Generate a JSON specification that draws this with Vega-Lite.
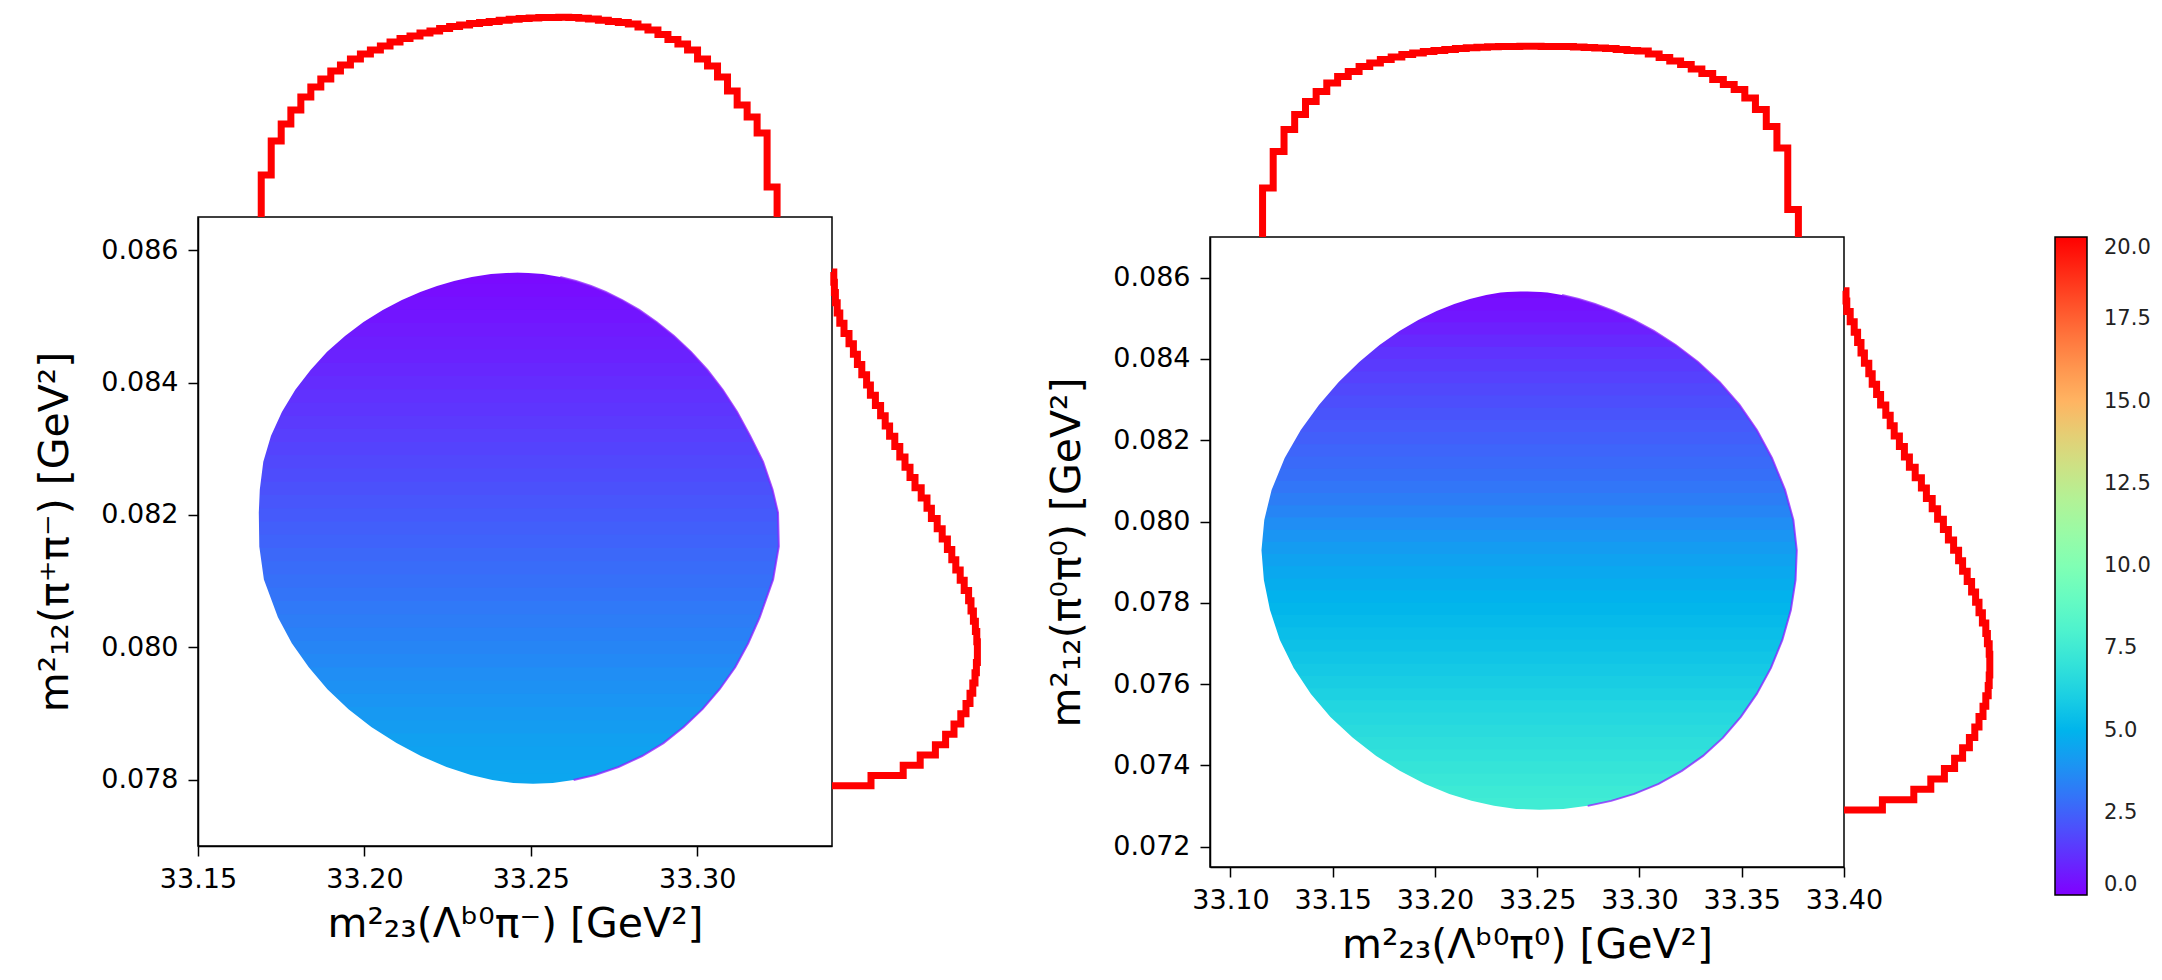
{
  "$schema": "https://vega.github.io/schema/vega-lite/v6.json",
  "background": "white",
  "padding": {"left": 33, "top": 2, "right": 5, "bottom": 5},
  "config": {
    "font": "DejaVu Sans",
    "view": {"stroke": "black", "strokeWidth": 1.5},
    "axis": {"grid": false, "domainColor": "black", "domainWidth": 1.5, "tickColor": "black", "tickWidth": 1.5, "tickSize": 10, "labelFontSize": 27, "labelColor": "black", "labelPadding": 10, "labelFlush": false, "labelOverlap": false, "titleFontSize": 41, "titleFontWeight": "normal", "titleColor": "black", "titlePadding": 12, "zindex": 1},
    "axisY": {"titlePadding": 24},
    "legend": {"gradientVerticalMaxLength": 800, "gradientVerticalMinLength": 10}
  },
  "datasets": {
    "stripsL": [
      {"y":0.07794,"y2":0.07813,"v":4.55},{"y":0.0781,"y2":0.07833,"v":4.5},{"y":0.0783,"y2":0.07853,"v":4.42},{"y":0.0785,"y2":0.07873,"v":4.33},{"y":0.0787,"y2":0.07893,"v":4.22},{"y":0.0789,"y2":0.07913,"v":4.1},{"y":0.0791,"y2":0.07933,"v":3.98},{"y":0.0793,"y2":0.07953,"v":3.86},{"y":0.0795,"y2":0.07973,"v":3.74},{"y":0.0797,"y2":0.07993,"v":3.62},{"y":0.0799,"y2":0.08013,"v":3.5},{"y":0.0801,"y2":0.08033,"v":3.38},{"y":0.0803,"y2":0.08053,"v":3.26},{"y":0.0805,"y2":0.08073,"v":3.14},{"y":0.0807,"y2":0.08093,"v":3.02},{"y":0.0809,"y2":0.08113,"v":2.9},{"y":0.0811,"y2":0.08133,"v":2.78},{"y":0.0813,"y2":0.08153,"v":2.66},{"y":0.0815,"y2":0.08173,"v":2.54},{"y":0.0817,"y2":0.08193,"v":2.42},{"y":0.0819,"y2":0.08213,"v":2.3},{"y":0.0821,"y2":0.08233,"v":2.18},{"y":0.0823,"y2":0.08253,"v":2.06},{"y":0.0825,"y2":0.08273,"v":1.94},{"y":0.0827,"y2":0.08293,"v":1.82},{"y":0.0829,"y2":0.08313,"v":1.7},{"y":0.0831,"y2":0.08333,"v":1.58},{"y":0.0833,"y2":0.08353,"v":1.46},{"y":0.0835,"y2":0.08373,"v":1.34},{"y":0.0837,"y2":0.08393,"v":1.22},{"y":0.0839,"y2":0.08413,"v":1.1},{"y":0.0841,"y2":0.08433,"v":0.98},{"y":0.0843,"y2":0.08453,"v":0.86},{"y":0.0845,"y2":0.08473,"v":0.75},{"y":0.0847,"y2":0.08493,"v":0.64},{"y":0.0849,"y2":0.08513,"v":0.53},{"y":0.0851,"y2":0.08533,"v":0.43},{"y":0.0853,"y2":0.08553,"v":0.33},{"y":0.0855,"y2":0.08566,"v":0.24}
    ],
    "stripsR": [
      {"y":0.07291,"y2":0.07324,"v":7.5},{"y":0.0732,"y2":0.07354,"v":7.37},{"y":0.0735,"y2":0.07384,"v":7.22},{"y":0.0738,"y2":0.07414,"v":7.08},{"y":0.0741,"y2":0.07444,"v":6.92},{"y":0.0744,"y2":0.07474,"v":6.78},{"y":0.0747,"y2":0.07504,"v":6.63},{"y":0.075,"y2":0.07534,"v":6.48},{"y":0.0753,"y2":0.07564,"v":6.33},{"y":0.0756,"y2":0.07594,"v":6.15},{"y":0.0759,"y2":0.07624,"v":5.98},{"y":0.0762,"y2":0.07654,"v":5.82},{"y":0.0765,"y2":0.07684,"v":5.67},{"y":0.0768,"y2":0.07714,"v":5.52},{"y":0.0771,"y2":0.07744,"v":5.38},{"y":0.0774,"y2":0.07774,"v":5.22},{"y":0.0777,"y2":0.07804,"v":5.08},{"y":0.078,"y2":0.07834,"v":4.92},{"y":0.0783,"y2":0.07864,"v":4.78},{"y":0.0786,"y2":0.07894,"v":4.6},{"y":0.0789,"y2":0.07924,"v":4.42},{"y":0.0792,"y2":0.07954,"v":4.2},{"y":0.0795,"y2":0.07984,"v":3.98},{"y":0.0798,"y2":0.08014,"v":3.74},{"y":0.0801,"y2":0.08044,"v":3.5},{"y":0.0804,"y2":0.08074,"v":3.28},{"y":0.0807,"y2":0.08104,"v":3.06},{"y":0.081,"y2":0.08134,"v":2.88},{"y":0.0813,"y2":0.08164,"v":2.73},{"y":0.0816,"y2":0.08194,"v":2.58},{"y":0.0819,"y2":0.08224,"v":2.43},{"y":0.0822,"y2":0.08254,"v":2.28},{"y":0.0825,"y2":0.08284,"v":2.13},{"y":0.0828,"y2":0.08314,"v":1.98},{"y":0.0831,"y2":0.08344,"v":1.82},{"y":0.0834,"y2":0.08374,"v":1.65},{"y":0.0837,"y2":0.08404,"v":1.47},{"y":0.084,"y2":0.08434,"v":1.28},{"y":0.0843,"y2":0.08464,"v":1.03},{"y":0.0846,"y2":0.08494,"v":0.8},{"y":0.0849,"y2":0.08524,"v":0.57},{"y":0.0852,"y2":0.08554,"v":0.37},{"y":0.0855,"y2":0.08566,"v":0.18}
    ],
    "edgeL": [
      {"y":0.08575,"xl":33.24603,"xr":33.24603},{"y":0.085664,"xl":33.24603,"xr":33.24603},{"y":0.085638,"xl":33.23805,"xr":33.25366},{"y":0.085593,"xl":33.23227,"xr":33.25883},{"y":0.085533,"xl":33.22695,"xr":33.26355},{"y":0.085457,"xl":33.22182,"xr":33.26809},{"y":0.085367,"xl":33.2168,"xr":33.27251},{"y":0.085246,"xl":33.21127,"xr":33.27743},{"y":0.085096,"xl":33.20553,"xr":33.28257},{"y":0.084915,"xl":33.19973,"xr":33.28777},{"y":0.084704,"xl":33.19417,"xr":33.29303},{"y":0.084463,"xl":33.18879,"xr":33.29811},{"y":0.084191,"xl":33.18383,"xr":33.30307},{"y":0.08389,"xl":33.17924,"xr":33.30766},{"y":0.083558,"xl":33.17524,"xr":33.31196},{"y":0.083197,"xl":33.17194,"xr":33.31587},{"y":0.082805,"xl":33.16962,"xr":33.31977},{"y":0.082383,"xl":33.16857,"xr":33.32263},{"y":0.082036,"xl":33.16827,"xr":33.32428},{"y":0.081524,"xl":33.16842,"xr":33.32452},{"y":0.081026,"xl":33.1698,"xr":33.32281},{"y":0.080454,"xl":33.17401,"xr":33.31878},{"y":0.080062,"xl":33.17819,"xr":33.31533},{"y":0.0797,"xl":33.18329,"xr":33.31142},{"y":0.079368,"xl":33.18888,"xr":33.30673},{"y":0.079067,"xl":33.19522,"xr":33.30159},{"y":0.078796,"xl":33.20207,"xr":33.29594},{"y":0.078554,"xl":33.20965,"xr":33.28987},{"y":0.078359,"xl":33.21698,"xr":33.28344},{"y":0.078193,"xl":33.22467,"xr":33.27635},{"y":0.078072,"xl":33.23203,"xr":33.26929},{"y":0.077997,"xl":33.23846,"xr":33.26286},{"y":0.077952,"xl":33.24474,"xr":33.25658},{"y":0.077937,"xl":33.25066,"xr":33.25066},{"y":0.07786,"xl":33.25066,"xr":33.25066}
    ],
    "edgeR": [
      {"y":0.08577,"xl":33.24349,"xr":33.24349},{"y":0.08568,"xl":33.24349,"xr":33.24349},{"y":0.085636,"xl":33.23209,"xr":33.25499},{"y":0.085574,"xl":33.22505,"xr":33.26213},{"y":0.085476,"xl":33.21707,"xr":33.2703},{"y":0.085353,"xl":33.20944,"xr":33.27823},{"y":0.085181,"xl":33.20083,"xr":33.28733},{"y":0.084959,"xl":33.19183,"xr":33.29702},{"y":0.084689,"xl":33.18263,"xr":33.307},{"y":0.084344,"xl":33.1729,"xr":33.31771},{"y":0.083926,"xl":33.16297,"xr":33.32862},{"y":0.083434,"xl":33.15294,"xr":33.33914},{"y":0.082868,"xl":33.14325,"xr":33.34892},{"y":0.082253,"xl":33.13439,"xr":33.35739},{"y":0.081565,"xl":33.12652,"xr":33.36478},{"y":0.080777,"xl":33.12011,"xr":33.37118},{"y":0.080039,"xl":33.11654,"xr":33.37525},{"y":0.079293,"xl":33.11517,"xr":33.37691},{"y":0.078563,"xl":33.11634,"xr":33.37632},{"y":0.077825,"xl":33.11933,"xr":33.37402},{"y":0.077087,"xl":33.12417,"xr":33.36986},{"y":0.076398,"xl":33.13092,"xr":33.36429},{"y":0.075759,"xl":33.13934,"xr":33.35734},{"y":0.075193,"xl":33.14888,"xr":33.34956},{"y":0.074677,"xl":33.15983,"xr":33.34075},{"y":0.074234,"xl":33.17128,"xr":33.33107},{"y":0.073865,"xl":33.18278,"xr":33.32074},{"y":0.073545,"xl":33.19516,"xr":33.30934},{"y":0.073299,"xl":33.20705,"xr":33.29746},{"y":0.073127,"xl":33.21786,"xr":33.28616},{"y":0.073004,"xl":33.22887,"xr":33.27466},{"y":0.07293,"xl":33.23978,"xr":33.26277},{"y":0.072905,"xl":33.25103,"xr":33.25103},{"y":0.07282,"xl":33.25103,"xr":33.25103}
    ],
    "topL": [
      {"i":0,"x":33.169,"h":0},{"i":1,"x":33.169,"h":0.21},{"i":2,"x":33.172,"h":0.38},{"i":3,"x":33.175,"h":0.465},{"i":4,"x":33.1779,"h":0.535},{"i":5,"x":33.1809,"h":0.6},{"i":6,"x":33.1839,"h":0.65},{"i":7,"x":33.1869,"h":0.69},{"i":8,"x":33.1899,"h":0.73},{"i":9,"x":33.1928,"h":0.76},{"i":10,"x":33.1958,"h":0.79},{"i":11,"x":33.1988,"h":0.815},{"i":12,"x":33.2018,"h":0.835},{"i":13,"x":33.2048,"h":0.855},{"i":14,"x":33.2077,"h":0.875},{"i":15,"x":33.2107,"h":0.893},{"i":16,"x":33.2137,"h":0.905},{"i":17,"x":33.2167,"h":0.92},{"i":18,"x":33.2197,"h":0.93},{"i":19,"x":33.2226,"h":0.943},{"i":20,"x":33.2256,"h":0.953},{"i":21,"x":33.2286,"h":0.96},{"i":22,"x":33.2316,"h":0.967},{"i":23,"x":33.2346,"h":0.972},{"i":24,"x":33.2375,"h":0.978},{"i":25,"x":33.2405,"h":0.984},{"i":26,"x":33.2435,"h":0.989},{"i":27,"x":33.2465,"h":0.993},{"i":28,"x":33.2495,"h":0.995},{"i":29,"x":33.2524,"h":0.997},{"i":30,"x":33.2554,"h":0.998},{"i":31,"x":33.2584,"h":0.999},{"i":32,"x":33.2614,"h":0.998},{"i":33,"x":33.2644,"h":0.994},{"i":34,"x":33.2673,"h":0.99},{"i":35,"x":33.2703,"h":0.984},{"i":36,"x":33.2733,"h":0.978},{"i":37,"x":33.2763,"h":0.973},{"i":38,"x":33.2793,"h":0.965},{"i":39,"x":33.2822,"h":0.95},{"i":40,"x":33.2852,"h":0.935},{"i":41,"x":33.2882,"h":0.913},{"i":42,"x":33.2912,"h":0.888},{"i":43,"x":33.2942,"h":0.865},{"i":44,"x":33.2971,"h":0.835},{"i":45,"x":33.3001,"h":0.79},{"i":46,"x":33.3031,"h":0.755},{"i":47,"x":33.3061,"h":0.7},{"i":48,"x":33.3091,"h":0.63},{"i":49,"x":33.312,"h":0.56},{"i":50,"x":33.315,"h":0.5},{"i":51,"x":33.318,"h":0.42},{"i":52,"x":33.321,"h":0.15},{"i":53,"x":33.324,"h":0}
    ],
    "topR": [
      {"i":0,"x":33.1157,"h":0},{"i":1,"x":33.1157,"h":0.245},{"i":2,"x":33.1209,"h":0.428},{"i":3,"x":33.1262,"h":0.537},{"i":4,"x":33.1314,"h":0.612},{"i":5,"x":33.1367,"h":0.678},{"i":6,"x":33.1419,"h":0.728},{"i":7,"x":33.1471,"h":0.77},{"i":8,"x":33.1524,"h":0.803},{"i":9,"x":33.1576,"h":0.828},{"i":10,"x":33.1629,"h":0.853},{"i":11,"x":33.1681,"h":0.87},{"i":12,"x":33.1733,"h":0.887},{"i":13,"x":33.1786,"h":0.9},{"i":14,"x":33.1838,"h":0.912},{"i":15,"x":33.1891,"h":0.92},{"i":16,"x":33.1943,"h":0.927},{"i":17,"x":33.1995,"h":0.933},{"i":18,"x":33.2048,"h":0.938},{"i":19,"x":33.21,"h":0.942},{"i":20,"x":33.2153,"h":0.946},{"i":21,"x":33.2205,"h":0.949},{"i":22,"x":33.2257,"h":0.951},{"i":23,"x":33.231,"h":0.953},{"i":24,"x":33.2362,"h":0.953},{"i":25,"x":33.2415,"h":0.954},{"i":26,"x":33.2467,"h":0.954},{"i":27,"x":33.2519,"h":0.953},{"i":28,"x":33.2572,"h":0.953},{"i":29,"x":33.2624,"h":0.952},{"i":30,"x":33.2677,"h":0.95},{"i":31,"x":33.2729,"h":0.948},{"i":32,"x":33.2781,"h":0.945},{"i":33,"x":33.2834,"h":0.942},{"i":34,"x":33.2886,"h":0.938},{"i":35,"x":33.2939,"h":0.933},{"i":36,"x":33.2991,"h":0.93},{"i":37,"x":33.3043,"h":0.915},{"i":38,"x":33.3096,"h":0.898},{"i":39,"x":33.3148,"h":0.88},{"i":40,"x":33.3201,"h":0.862},{"i":41,"x":33.3253,"h":0.84},{"i":42,"x":33.3305,"h":0.817},{"i":43,"x":33.3358,"h":0.787},{"i":44,"x":33.341,"h":0.762},{"i":45,"x":33.3463,"h":0.737},{"i":46,"x":33.3515,"h":0.695},{"i":47,"x":33.3567,"h":0.637},{"i":48,"x":33.362,"h":0.553},{"i":49,"x":33.3672,"h":0.445},{"i":50,"x":33.3725,"h":0.137},{"i":51,"x":33.3777,"h":0}
    ],
    "sideL": [
      {"i":0,"w":0,"y":0.08567},{"i":1,"w":0.009,"y":0.085515},{"i":2,"w":0.012,"y":0.08536},{"i":3,"w":0.017,"y":0.085204},{"i":4,"w":0.026,"y":0.085049},{"i":5,"w":0.039,"y":0.084894},{"i":6,"w":0.06,"y":0.084739},{"i":7,"w":0.085,"y":0.084584},{"i":8,"w":0.107,"y":0.084428},{"i":9,"w":0.127,"y":0.084273},{"i":10,"w":0.149,"y":0.084118},{"i":11,"w":0.173,"y":0.083963},{"i":12,"w":0.192,"y":0.083808},{"i":13,"w":0.217,"y":0.083652},{"i":14,"w":0.243,"y":0.083497},{"i":15,"w":0.266,"y":0.083342},{"i":16,"w":0.288,"y":0.083187},{"i":17,"w":0.314,"y":0.083032},{"i":18,"w":0.339,"y":0.082876},{"i":19,"w":0.365,"y":0.082721},{"i":20,"w":0.39,"y":0.082566},{"i":21,"w":0.415,"y":0.082411},{"i":22,"w":0.446,"y":0.082256},{"i":23,"w":0.475,"y":0.0821},{"i":24,"w":0.497,"y":0.081945},{"i":25,"w":0.526,"y":0.08179},{"i":26,"w":0.551,"y":0.081635},{"i":27,"w":0.577,"y":0.08148},{"i":28,"w":0.599,"y":0.081324},{"i":29,"w":0.619,"y":0.081169},{"i":30,"w":0.641,"y":0.081014},{"i":31,"w":0.661,"y":0.080859},{"i":32,"w":0.683,"y":0.080704},{"i":33,"w":0.695,"y":0.080548},{"i":34,"w":0.707,"y":0.080393},{"i":35,"w":0.717,"y":0.080238},{"i":36,"w":0.724,"y":0.080083},{"i":37,"w":0.727,"y":0.079928},{"i":38,"w":0.727,"y":0.079772},{"i":39,"w":0.722,"y":0.079617},{"i":40,"w":0.715,"y":0.079462},{"i":41,"w":0.704,"y":0.079307},{"i":42,"w":0.69,"y":0.079152},{"i":43,"w":0.67,"y":0.078996},{"i":44,"w":0.644,"y":0.078841},{"i":45,"w":0.61,"y":0.078686},{"i":46,"w":0.568,"y":0.078531},{"i":47,"w":0.517,"y":0.078376},{"i":48,"w":0.441,"y":0.07822},{"i":49,"w":0.356,"y":0.078065},{"i":50,"w":0.195,"y":0.07791},{"i":51,"w":0,"y":0.07791}
    ],
    "sideR": [
      {"i":0,"w":0,"y":0.08568},{"i":1,"w":0.01,"y":0.085424},{"i":2,"w":0.014,"y":0.085169},{"i":3,"w":0.031,"y":0.084913},{"i":4,"w":0.051,"y":0.084658},{"i":5,"w":0.068,"y":0.084402},{"i":6,"w":0.085,"y":0.084146},{"i":7,"w":0.102,"y":0.083891},{"i":8,"w":0.124,"y":0.083635},{"i":9,"w":0.141,"y":0.08338},{"i":10,"w":0.163,"y":0.083124},{"i":11,"w":0.183,"y":0.082868},{"i":12,"w":0.209,"y":0.082613},{"i":13,"w":0.231,"y":0.082357},{"i":14,"w":0.251,"y":0.082102},{"i":15,"w":0.277,"y":0.081846},{"i":16,"w":0.302,"y":0.08159},{"i":17,"w":0.327,"y":0.081335},{"i":18,"w":0.356,"y":0.081079},{"i":19,"w":0.387,"y":0.080824},{"i":20,"w":0.412,"y":0.080568},{"i":21,"w":0.441,"y":0.080312},{"i":22,"w":0.468,"y":0.080057},{"i":23,"w":0.497,"y":0.079801},{"i":24,"w":0.522,"y":0.079546},{"i":25,"w":0.548,"y":0.07929},{"i":26,"w":0.573,"y":0.079034},{"i":27,"w":0.593,"y":0.078779},{"i":28,"w":0.616,"y":0.078523},{"i":29,"w":0.638,"y":0.078268},{"i":30,"w":0.658,"y":0.078012},{"i":31,"w":0.675,"y":0.077756},{"i":32,"w":0.692,"y":0.077501},{"i":33,"w":0.709,"y":0.077245},{"i":34,"w":0.717,"y":0.07699},{"i":35,"w":0.726,"y":0.076734},{"i":36,"w":0.729,"y":0.076478},{"i":37,"w":0.729,"y":0.076223},{"i":38,"w":0.726,"y":0.075967},{"i":39,"w":0.721,"y":0.075712},{"i":40,"w":0.709,"y":0.075456},{"i":41,"w":0.695,"y":0.0752},{"i":42,"w":0.675,"y":0.074945},{"i":43,"w":0.654,"y":0.074689},{"i":44,"w":0.627,"y":0.074434},{"i":45,"w":0.593,"y":0.074178},{"i":46,"w":0.553,"y":0.073922},{"i":47,"w":0.502,"y":0.073667},{"i":48,"w":0.434,"y":0.073411},{"i":49,"w":0.349,"y":0.073156},{"i":50,"w":0.192,"y":0.0729},{"i":51,"w":0,"y":0.0729}
    ]
  },
  "resolve": {"scale": {"color": "shared"}, "legend": {"color": "shared"}},
  "bounds": "flush",
  "spacing": 378,
  "hconcat": [
    {
      "width": 634, "height": 629,
      "resolve": {"scale": {"x": "independent", "y": "independent"}},
      "layer": [
        {
          "layer": [
            {
              "data": {"name": "stripsL"},
              "mark": {"type": "rect"},
              "encoding": {
                "x": {"datum": 33.166, "type": "quantitative", "scale": {"domain": [33.15, 33.3405], "nice": false, "zero": false}, "axis": {"values": [33.15, 33.2, 33.25, 33.3], "format": ".2f", "title": "m²₂₃(Λᵇ⁰π⁻) [GeV²]"}},
                "x2": {"datum": 33.327},
                "y": {"field": "y", "type": "quantitative", "scale": {"domain": [0.077, 0.0865], "nice": false, "zero": false}, "axis": {"values": [0.078, 0.08, 0.082, 0.084, 0.086], "format": ".3f", "title": "m²₁₂(π⁺π⁻) [GeV²]"}},
                "y2": {"field": "y2"},
                "color": {"field": "v", "type": "quantitative",
                  "scale": {"domain": [0,1.25,2.5,3.75,5,6.25,7.5,8.75,10,11.25,12.5,13.75,15,16.25,17.5,18.75,20], "range": ["#8000ff","#6032fe","#4062fa","#208ef4","#00b4ec","#20d4e1","#40ecd4","#60fac5","#80ffb4","#9ffaa2","#bfec8e","#dfd478","#ffb462","#ff8e4a","#ff6232","#ff3219","#ff0000"], "interpolate": "rgb"},
                  "legend": {"orient": "none", "legendX": 1857, "legendY": 20, "direction": "vertical", "gradientLength": 658, "gradientThickness": 32, "gradientStrokeColor": "black", "gradientStrokeWidth": 1.5, "labelFontSize": 21, "labelColor": "#222222", "labelOffset": 17, "labelBaseline": "middle", "values": [0, 2.5, 5, 7.5, 10, 12.5, 15, 17.5, 20], "format": ".1f", "title": null, "padding": 0}}
              }
            },
            {
              "data": {"name": "edgeL"},
              "mark": {"type": "area", "orient": "horizontal", "color": "white"},
              "encoding": {
                "y": {"field": "y", "type": "quantitative", "scale": {"domain": [0.077, 0.0865], "nice": false, "zero": false}},
                "x": {"field": "xl", "type": "quantitative", "scale": {"domain": [33.15, 33.3405], "nice": false, "zero": false}},
                "x2": {"datum": 33.165}
              }
            },
            {
              "data": {"name": "edgeL"},
              "mark": {"type": "area", "orient": "horizontal", "color": "white"},
              "encoding": {
                "y": {"field": "y", "type": "quantitative", "scale": {"domain": [0.077, 0.0865], "nice": false, "zero": false}},
                "x": {"field": "xr", "type": "quantitative", "scale": {"domain": [33.15, 33.3405], "nice": false, "zero": false}},
                "x2": {"datum": 33.328}
              }
            },
            {
              "data": {"name": "edgeL"},
              "transform": [{"filter": "datum.y < 0.0856 && datum.y > 0.07797"}],
              "mark": {"type": "line", "color": "#8a1cff", "strokeWidth": 2, "opacity": 0.75},
              "encoding": {
                "y": {"field": "y", "type": "quantitative", "scale": {"domain": [0.077, 0.0865], "nice": false, "zero": false}},
                "x": {"field": "xr", "type": "quantitative", "scale": {"domain": [33.15, 33.3405], "nice": false, "zero": false}},
                "order": {"field": "y", "type": "quantitative"}
              }
            }
          ]
        },
        {
          "data": {"name": "topL"},
          "mark": {"type": "line", "interpolate": "step-after", "color": "#ff0000", "strokeWidth": 7, "strokeJoin": "miter"},
          "encoding": {
            "x": {"field": "x", "type": "quantitative", "scale": {"domain": [33.15, 33.3405], "nice": false, "zero": false}, "axis": null},
            "y": {"field": "h", "type": "quantitative", "scale": {"domain": [-3.145, 0], "nice": false, "zero": false}, "axis": null},
            "order": {"field": "i", "type": "quantitative"}
          }
        },
        {
          "data": {"name": "sideL"},
          "mark": {"type": "line", "interpolate": "step-after", "color": "#ff0000", "strokeWidth": 7, "strokeJoin": "miter"},
          "encoding": {
            "x": {"field": "w", "type": "quantitative", "scale": {"domain": [-3.17, 0], "nice": false, "zero": false}, "axis": null},
            "y": {"field": "y", "type": "quantitative", "scale": {"domain": [0.077, 0.0865], "nice": false, "zero": false}, "axis": null},
            "order": {"field": "i", "type": "quantitative"}
          }
        }
      ]
    },
    {
      "bounds": "flush",
      "spacing": 0,
      "resolve": {"scale": {"color": "shared"}, "legend": {"color": "shared"}},
      "vconcat": [
        {
          "width": 634, "height": 20,
          "view": {"stroke": null},
          "data": {"values": []},
          "mark": {"type": "point", "opacity": 0},
          "encoding": {}
        },
        {
          "width": 634, "height": 630,
          "resolve": {"scale": {"x": "independent", "y": "independent"}},
          "layer": [
            {
              "layer": [
                {
                  "data": {"name": "stripsR"},
                  "mark": {"type": "rect"},
                  "encoding": {
                    "x": {"datum": 33.113, "type": "quantitative", "scale": {"domain": [33.09, 33.4], "nice": false, "zero": false}, "axis": {"values": [33.1, 33.15, 33.2, 33.25, 33.3, 33.35, 33.4], "format": ".2f", "title": "m²₂₃(Λᵇ⁰π⁰) [GeV²]"}},
                    "x2": {"datum": 33.38},
                    "y": {"field": "y", "type": "quantitative", "scale": {"domain": [0.0715, 0.087], "nice": false, "zero": false}, "axis": {"values": [0.072, 0.074, 0.076, 0.078, 0.08, 0.082, 0.084, 0.086], "format": ".3f", "title": "m²₁₂(π⁰π⁰) [GeV²]"}},
                    "y2": {"field": "y2"},
                    "color": {"field": "v", "type": "quantitative",
                      "scale": {"domain": [0,1.25,2.5,3.75,5,6.25,7.5,8.75,10,11.25,12.5,13.75,15,16.25,17.5,18.75,20], "range": ["#8000ff","#6032fe","#4062fa","#208ef4","#00b4ec","#20d4e1","#40ecd4","#60fac5","#80ffb4","#9ffaa2","#bfec8e","#dfd478","#ffb462","#ff8e4a","#ff6232","#ff3219","#ff0000"], "interpolate": "rgb"},
                      "legend": {"orient": "none", "legendX": 1857, "legendY": 20, "direction": "vertical", "gradientLength": 658, "gradientThickness": 32, "gradientStrokeColor": "black", "gradientStrokeWidth": 1.5, "labelFontSize": 21, "labelColor": "#222222", "labelOffset": 17, "labelBaseline": "middle", "values": [0, 2.5, 5, 7.5, 10, 12.5, 15, 17.5, 20], "format": ".1f", "title": null, "padding": 0}}
                  }
                },
                {
                  "data": {"name": "edgeR"},
                  "mark": {"type": "area", "orient": "horizontal", "color": "white"},
                  "encoding": {
                    "y": {"field": "y", "type": "quantitative", "scale": {"domain": [0.0715, 0.087], "nice": false, "zero": false}},
                    "x": {"field": "xl", "type": "quantitative", "scale": {"domain": [33.09, 33.4], "nice": false, "zero": false}},
                    "x2": {"datum": 33.112}
                  }
                },
                {
                  "data": {"name": "edgeR"},
                  "mark": {"type": "area", "orient": "horizontal", "color": "white"},
                  "encoding": {
                    "y": {"field": "y", "type": "quantitative", "scale": {"domain": [0.0715, 0.087], "nice": false, "zero": false}},
                    "x": {"field": "xr", "type": "quantitative", "scale": {"domain": [33.09, 33.4], "nice": false, "zero": false}},
                    "x2": {"datum": 33.381}
                  }
                },
                {
                  "data": {"name": "edgeR"},
                  "transform": [{"filter": "datum.y < 0.0856 && datum.y > 0.07296"}],
                  "mark": {"type": "line", "color": "#8a1cff", "strokeWidth": 2, "opacity": 0.75},
                  "encoding": {
                    "y": {"field": "y", "type": "quantitative", "scale": {"domain": [0.0715, 0.087], "nice": false, "zero": false}},
                    "x": {"field": "xr", "type": "quantitative", "scale": {"domain": [33.09, 33.4], "nice": false, "zero": false}},
                    "order": {"field": "y", "type": "quantitative"}
                  }
                }
              ]
            },
            {
              "data": {"name": "topR"},
              "mark": {"type": "line", "interpolate": "step-after", "color": "#ff0000", "strokeWidth": 7, "strokeJoin": "miter"},
              "encoding": {
                "x": {"field": "x", "type": "quantitative", "scale": {"domain": [33.09, 33.4], "nice": false, "zero": false}, "axis": null},
                "y": {"field": "h", "type": "quantitative", "scale": {"domain": [-3.15, 0], "nice": false, "zero": false}, "axis": null},
                "order": {"field": "i", "type": "quantitative"}
              }
            },
            {
              "data": {"name": "sideR"},
              "mark": {"type": "line", "interpolate": "step-after", "color": "#ff0000", "strokeWidth": 7, "strokeJoin": "miter"},
              "encoding": {
                "x": {"field": "w", "type": "quantitative", "scale": {"domain": [-3.17, 0], "nice": false, "zero": false}, "axis": null},
                "y": {"field": "y", "type": "quantitative", "scale": {"domain": [0.0715, 0.087], "nice": false, "zero": false}, "axis": null},
                "order": {"field": "i", "type": "quantitative"}
              }
            }
          ]
        }
      ]
    }
  ]
}
